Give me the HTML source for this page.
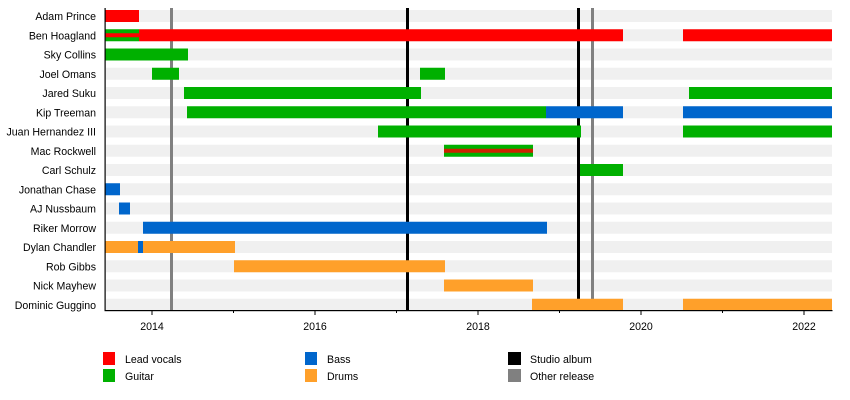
<!DOCTYPE html>
<html><head><meta charset="utf-8"><style>
html,body{margin:0;padding:0;background:#fff;}
svg{display:block;font-family:"Liberation Sans",Arial,sans-serif;font-size:10.6px;}
</style></head><body>
<svg width="850" height="400" xmlns="http://www.w3.org/2000/svg">
<g fill="#f0f0f0">
<rect x="106" y="10" width="726" height="12"/><rect x="106" y="29.25" width="726" height="12"/>
<rect x="106" y="48.5" width="726" height="12"/><rect x="106" y="67.75" width="726" height="12"/>
<rect x="106" y="87" width="726" height="12"/><rect x="106" y="106.25" width="726" height="12"/>
<rect x="106" y="125.5" width="726" height="12"/><rect x="106" y="144.75" width="726" height="12"/>
<rect x="106" y="164" width="726" height="12"/><rect x="106" y="183.25" width="726" height="12"/>
<rect x="106" y="202.5" width="726" height="12"/><rect x="106" y="221.75" width="726" height="12"/>
<rect x="106" y="241" width="726" height="12"/><rect x="106" y="260.25" width="726" height="12"/>
<rect x="106" y="279.5" width="726" height="12"/><rect x="106" y="298.75" width="726" height="12"/>
</g>
<!-- release lines -->
<rect x="170" y="8" width="3" height="302" fill="#808080"/>
<rect x="591" y="8" width="3" height="302" fill="#808080"/>
<rect x="406" y="8" width="3" height="302" fill="#000"/>
<rect x="577" y="8" width="3" height="302" fill="#000"/>
<!-- bars -->
<g>
<rect x="105" y="10" width="34" height="12" fill="#ff0000"/>
<rect x="105" y="29.25" width="34" height="12" fill="#00b000"/>
<rect x="105" y="33.25" width="34" height="4" fill="#ff0000"/>
<rect x="139" y="29.25" width="484" height="12" fill="#ff0000"/>
<rect x="683" y="29.25" width="149" height="12" fill="#ff0000"/>
<rect x="105" y="48.5" width="83" height="12" fill="#00b000"/>
<rect x="152" y="67.75" width="27" height="12" fill="#00b000"/>
<rect x="420" y="67.75" width="25" height="12" fill="#00b000"/>
<rect x="184" y="87" width="237" height="12" fill="#00b000"/>
<rect x="689" y="87" width="143" height="12" fill="#00b000"/>
<rect x="187" y="106.25" width="359" height="12" fill="#00b000"/>
<rect x="546" y="106.25" width="77" height="12" fill="#0066cc"/>
<rect x="683" y="106.25" width="149" height="12" fill="#0066cc"/>
<rect x="378" y="125.5" width="203" height="12" fill="#00b000"/>
<rect x="683" y="125.5" width="149" height="12" fill="#00b000"/>
<rect x="444" y="144.75" width="89" height="12" fill="#00b000"/>
<rect x="444" y="148.75" width="89" height="4" fill="#cc2200"/>
<rect x="580" y="164" width="43" height="12" fill="#00b000"/>
<rect x="105" y="183.25" width="15" height="12" fill="#0066cc"/>
<rect x="119" y="202.5" width="11" height="12" fill="#0066cc"/>
<rect x="143" y="221.75" width="404" height="12" fill="#0066cc"/>
<rect x="105" y="241" width="33" height="12" fill="#ffa02a"/>
<rect x="138" y="241" width="5" height="12" fill="#0066cc"/>
<rect x="143" y="241" width="92" height="12" fill="#ffa02a"/>
<rect x="234" y="260.25" width="211" height="12" fill="#ffa02a"/>
<rect x="444" y="279.5" width="89" height="12" fill="#ffa02a"/>
<rect x="532" y="298.75" width="91" height="12" fill="#ffa02a"/>
<rect x="683" y="298.75" width="149" height="12" fill="#ffa02a"/>
</g>
<!-- axes -->
<rect x="104.5" y="8" width="1.2" height="303" fill="#000"/>
<rect x="104.5" y="310" width="728" height="1.2" fill="#000"/>
<g stroke="#000" stroke-width="1">
<line x1="152" y1="310" x2="152" y2="315"/><line x1="233.5" y1="310" x2="233.5" y2="313"/>
<line x1="315" y1="310" x2="315" y2="315"/><line x1="396.5" y1="310" x2="396.5" y2="313"/>
<line x1="478" y1="310" x2="478" y2="315"/><line x1="559.5" y1="310" x2="559.5" y2="313"/>
<line x1="641" y1="310" x2="641" y2="315"/><line x1="722.5" y1="310" x2="722.5" y2="313"/>
<line x1="804" y1="310" x2="804" y2="315"/>
</g>
<g text-anchor="middle" fill="#000">
<text x="152" y="330">2014</text><text x="315" y="330">2016</text><text x="478" y="330">2018</text>
<text x="641" y="330">2020</text><text x="804" y="330">2022</text>
</g>
<g text-anchor="end" fill="#000">
<text x="96" y="20">Adam Prince</text><text x="96" y="39.25">Ben Hoagland</text>
<text x="96" y="58.5">Sky Collins</text><text x="96" y="77.75">Joel Omans</text>
<text x="96" y="97">Jared Suku</text><text x="96" y="116.25">Kip Treeman</text>
<text x="96" y="135.5">Juan Hernandez III</text><text x="96" y="154.75">Mac Rockwell</text>
<text x="96" y="174">Carl Schulz</text><text x="96" y="193.25">Jonathan Chase</text>
<text x="96" y="212.5">AJ Nussbaum</text><text x="96" y="231.75">Riker Morrow</text>
<text x="96" y="251">Dylan Chandler</text><text x="96" y="270.25">Rob Gibbs</text>
<text x="96" y="289.5">Nick Mayhew</text><text x="96" y="308.75">Dominic Guggino</text>
</g>
<!-- legend -->
<rect x="103" y="352" width="12" height="13" fill="#ff0000"/>
<rect x="103" y="369" width="12" height="13" fill="#00b000"/>
<rect x="305" y="352" width="12" height="13" fill="#0066cc"/>
<rect x="305" y="369" width="12" height="13" fill="#ffa02a"/>
<rect x="508" y="352" width="13" height="13" fill="#000"/>
<rect x="508" y="369" width="13" height="13" fill="#808080"/>
<g fill="#000">
<text x="125" y="363">Lead vocals</text><text x="125" y="380">Guitar</text>
<text x="327" y="363">Bass</text><text x="327" y="380">Drums</text>
<text x="530" y="363">Studio album</text><text x="530" y="380">Other release</text>
</g>
</svg>
</body></html>
